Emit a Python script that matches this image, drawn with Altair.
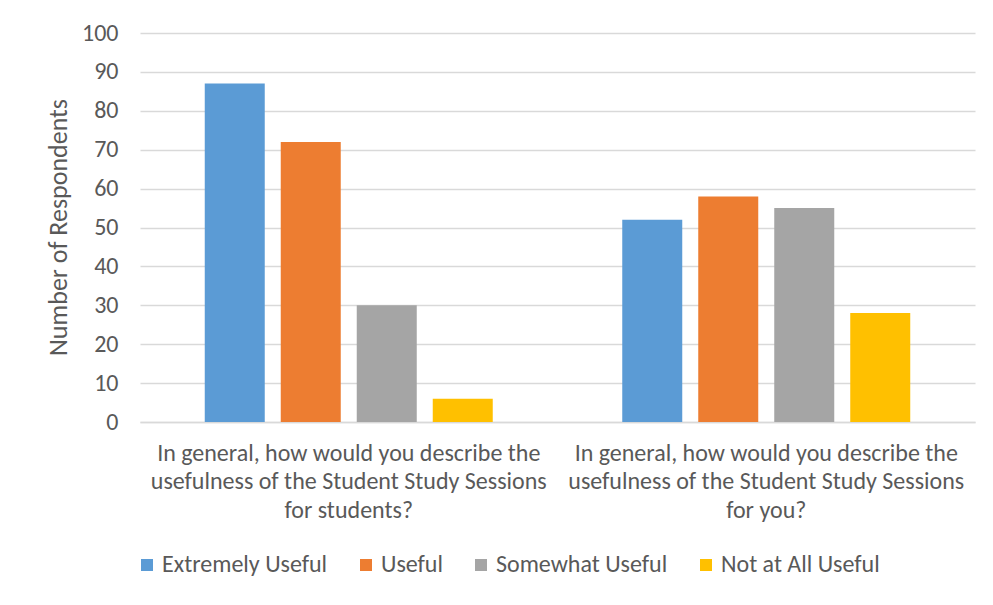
import altair as alt
import pandas as pd

questions = [
    "In general, how would you describe the|usefulness of the Student Study Sessions|for students?",
    "In general, how would you describe the|usefulness of the Student Study Sessions|for you?",
]
responses = ["Extremely Useful", "Useful", "Somewhat Useful", "Not at All Useful"]
for_students = [87, 72, 30, 6]
for_you = [52, 58, 55, 28]
colors = ["#5b9bd5", "#ed7d31", "#a5a5a5", "#ffc000"]
y_ticks = [0, 10, 20, 30, 40, 50, 60, 70, 80, 90, 100]

rows = []
for q, vals in zip(questions, [for_students, for_you]):
    for r, v in zip(responses, vals):
        rows.append({"question": q, "response": r, "count": v})
df = pd.DataFrame(rows)

FONT = "Carlito, Lato, 'Liberation Sans Narrow', 'Noto Sans', sans-serif"
TXT = "#595959"

border = alt.Chart(pd.DataFrame({"a": [0]})).mark_rect(
    fillOpacity=0, stroke="#d9d9d9", strokeWidth=1
).encode(
    x=alt.value(-133), x2=alt.value(851), y=alt.value(-26), y2=alt.value(566)
)

bars = alt.Chart(df).mark_bar().encode(
    x=alt.X(
        "question:N",
        sort=questions,
        scale=alt.Scale(paddingInner=0, paddingOuter=0),
        axis=alt.Axis(
            title=None,
            labelAngle=0,
            labelExpr="split(datum.label, '|')",
            labelLimit=0,
            labelFont=FONT,
            labelFontSize=24,
            labelColor=TXT,
            labelLineHeight=28.5,
            labelBaseline="top",
            labelPadding=19,
            ticks=False,
            domainColor="#d9d9d9",
            domainWidth=1.5,
        ),
    ),
    xOffset=alt.XOffset(
        "response:N",
        sort=responses,
        scale=alt.Scale(paddingInner=0.2105, paddingOuter=0.852),
    ),
    y=alt.Y(
        "count:Q",
        scale=alt.Scale(domain=[0, 100], nice=False),
        axis=alt.Axis(
            title="Number of Respondents",
            values=y_ticks,
            ticks=False,
            domain=False,
            grid=True,
            gridColor="#d9d9d9",
            gridWidth=1.3,
            labelFont=FONT,
            labelFontSize=24,
            labelColor=TXT,
            labelPadding=22,
            titleFont=FONT,
            titleFontSize=26,
            titleFontWeight="normal",
            titleColor=TXT,
            titleX=-82,
            titleY=194,
            titleAngle=270,
            titleAlign="center",
            titleBaseline="middle",
        ),
    ),
    color=alt.Color(
        "response:N",
        sort=responses,
        scale=alt.Scale(domain=responses, range=colors),
        legend=alt.Legend(
            title=None,
            orient="none",
            direction="horizontal",
            legendX=-5,
            legendY=520,
            symbolType="square",
            symbolSize=144,
            symbolStrokeWidth=0,
            labelFont=FONT,
            labelFontSize=24,
            labelColor=TXT,
            labelOffset=3,
            columnPadding=26,
            labelLimit=0,
        ),
    ),
)

chart = alt.layer(border, bars).properties(
    width=835,
    height=389,
    padding={"left": 132, "top": 25, "right": 10, "bottom": 175},
    autosize=alt.AutoSizeParams(type="none"),
    background="white",
).configure_view(stroke=None)

chart.save("out.html", embed_options={"renderer": "svg", "actions": False})
